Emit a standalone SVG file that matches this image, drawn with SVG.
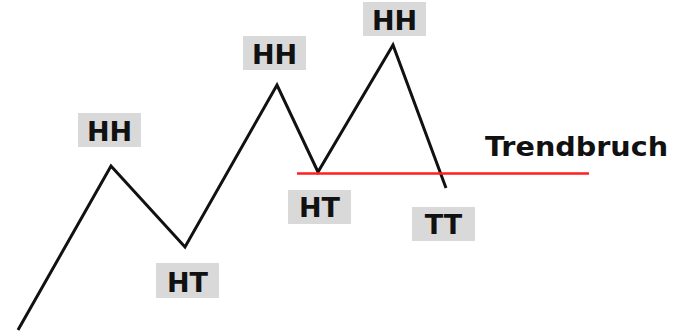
<svg xmlns="http://www.w3.org/2000/svg" width="685" height="332" viewBox="0 0 685 332">
<style>
.box{fill:#d9d9d9}
.lbl{font-family:"DejaVu Sans",sans-serif;font-weight:bold;font-size:27px;fill:#111;text-anchor:middle}
.trend{fill:none;stroke:#111;stroke-width:3;stroke-linejoin:miter}
.brk{stroke:#ff1f1f;stroke-width:2.6}
</style>
<rect width="685" height="332" fill="#fff"/>
<g id="connectors">
<polyline class="trend" points="18,330 111,166 185,247 277,85 318,172 393,45 446,188"/>
<line class="brk" x1="297" y1="173.5" x2="589" y2="173.5"/>
</g>
<g id="hh1"><rect class="box" x="78" y="113" width="63" height="34"/><text class="lbl" x="109.5" y="140.5">HH</text></g>
<g id="ht1"><rect class="box" x="156" y="263" width="63" height="35"/><text class="lbl" x="187.5" y="291.5">HT</text></g>
<g id="hh2"><rect class="box" x="243" y="36" width="63" height="34"/><text class="lbl" x="274.5" y="63.5">HH</text></g>
<g id="ht2"><rect class="box" x="288" y="190" width="63" height="34"/><text class="lbl" x="319.5" y="216.5">HT</text></g>
<g id="hh3"><rect class="box" x="363" y="2" width="63" height="34"/><text class="lbl" x="394.5" y="30">HH</text></g>
<g id="tt"><rect class="box" x="412" y="207" width="63" height="34"/><text class="lbl" x="443.5" y="233.5">TT</text></g>
<g id="trendbruch"><text x="485" y="156" font-family="DejaVu Sans, sans-serif" font-weight="bold" font-size="26" fill="#111" textLength="183" lengthAdjust="spacingAndGlyphs">Trendbruch</text></g>
</svg>
